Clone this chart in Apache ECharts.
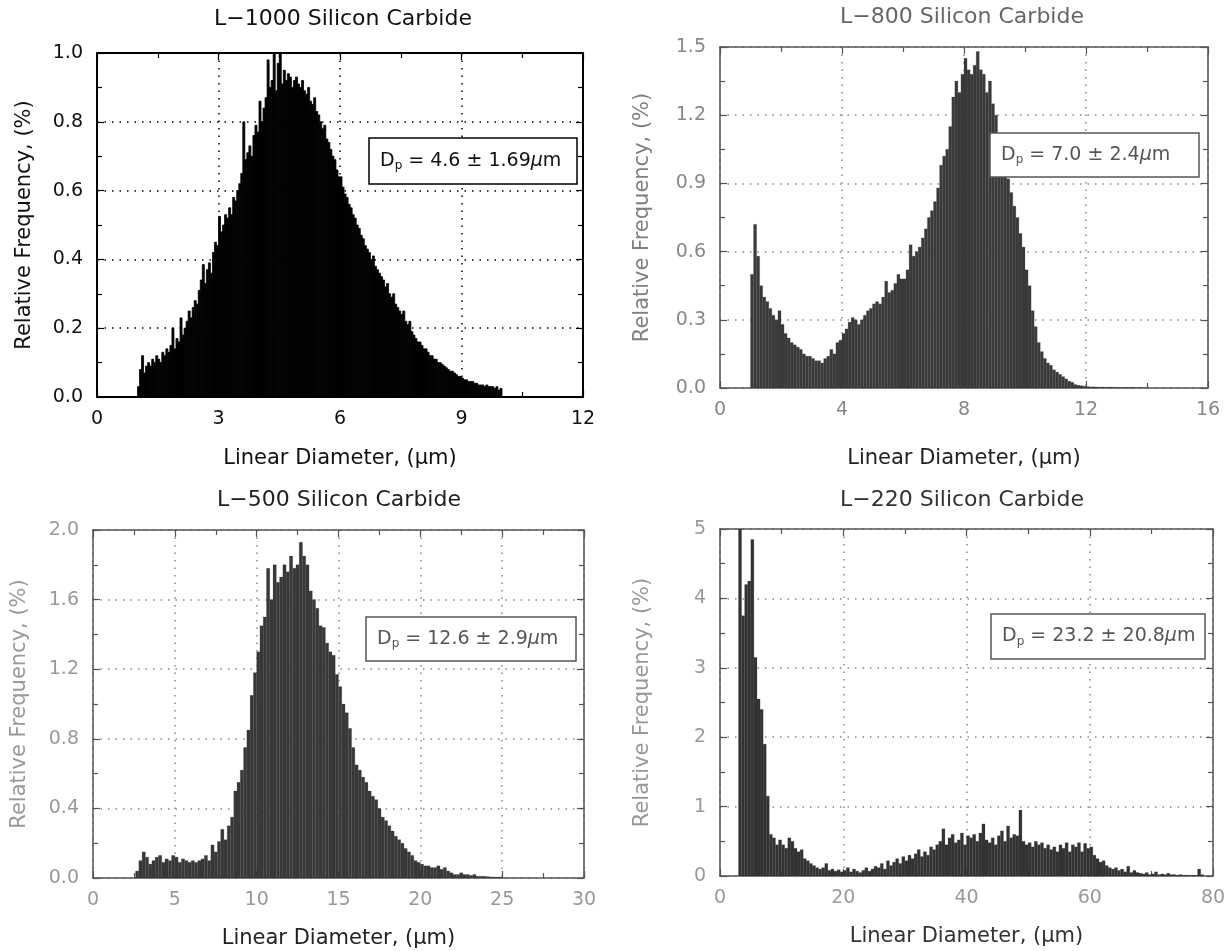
<!DOCTYPE html>
<html><head><meta charset="utf-8">
<script src="https://cdn.jsdelivr.net/npm/echarts@6/dist/echarts.min.js"></script>
<style>html,body{margin:0;padding:0;background:#fff}#c{width:1231px;height:951px}</style>
</head><body><div id="c"></div>
<script>
// ---------------- DATA ----------------
const xAxisName = 'Linear Diameter, (μm)';
const yAxisName = 'Relative Frequency, (%)';

const titles = ['L−1000 Silicon Carbide', 'L−800 Silicon Carbide', 'L−500 Silicon Carbide', 'L−220 Silicon Carbide'];
const meanLabels = ['4.6 ± 1.69', '7.0 ± 2.4', '12.6 ± 2.9', '23.2 ± 20.8'];

const xMax = [12, 16, 30, 80];
const xStep = [3, 4, 5, 20];
const yMax = [1.0, 1.5, 2.0, 5];
const yStep = [0.2, 0.3, 0.4, 1];
const yDecimals = [1, 1, 1, 0];

// L-1000: bins of 0.05 um starting at 1.00 um
const l1000Start = 1.0, l1000Bin = 0.05;
const l1000Values = [
  0.03,0.08,0.12,0.07,0.09, 0.10,0.09,0.11,0.10,0.12,
  0.11,0.10,0.13,0.12,0.14, 0.13,0.15,0.20,0.14,0.17,
  0.16,0.23,0.18,0.20,0.22, 0.25,0.23,0.26,0.28,0.27,
  0.31,0.34,0.385,0.33,0.37, 0.39,0.36,0.42,0.45,0.44,
  0.525,0.48,0.50,0.53,0.52, 0.55,0.53,0.58,0.57,0.60,
  0.62,0.65,0.80,0.69,0.71, 0.73,0.70,0.76,0.79,0.77,
  0.86,0.80,0.84,0.87,0.98, 0.90,0.92,1.01,0.89,0.97,
  1.00,0.91,0.95,0.92,0.94, 0.93,0.90,0.92,0.93,0.91,
  0.90,0.92,0.89,0.88,0.90, 0.86,0.85,0.87,0.83,0.82,
  0.80,0.78,0.79,0.75,0.74, 0.72,0.70,0.69,0.66,0.64,
  0.64,0.61,0.59,0.58,0.56, 0.55,0.53,0.52,0.50,0.49,
  0.47,0.46,0.44,0.43,0.42, 0.40,0.41,0.38,0.37,0.36,
  0.35,0.34,0.32,0.33,0.30, 0.29,0.30,0.27,0.26,0.25,
  0.24,0.25,0.22,0.21,0.22, 0.19,0.18,0.17,0.16,0.16,
  0.15,0.14,0.14,0.13,0.12, 0.12,0.11,0.11,0.10,0.10,
  0.095,0.09,0.085,0.08,0.075, 0.075,0.07,0.065,0.06,0.06,
  0.055,0.05,0.05,0.045,0.045, 0.045,0.04,0.04,0.035,0.035,
  0.035,0.03,0.035,0.03,0.03, 0.03,0.025,0.03,0.02,0.025
];

// L-800: bins of 0.1 um starting at 1.0 um
const l800Start = 1.0, l800Bin = 0.1;
const l800Values = [
  0.50,0.72,0.58,0.45,0.40, 0.38,0.35,0.32,0.30,0.34,
  0.28,0.24,0.22,0.20,0.19, 0.18,0.17,0.15,0.14,0.14,
  0.13,0.12,0.12,0.11,0.13, 0.14,0.17,0.15,0.20,0.21,
  0.24,0.26,0.29,0.31,0.30, 0.28,0.30,0.32,0.34,0.35,
  0.37,0.38,0.37,0.40,0.47, 0.42,0.43,0.46,0.50,0.48,
  0.48,0.52,0.63,0.58,0.60, 0.62,0.66,0.70,0.75,0.78,
  0.82,0.88,0.98,1.02,1.05, 1.15,1.28,1.35,1.30,1.38,
  1.45,1.40,1.38,1.42,1.48, 1.40,1.38,1.30,1.35,1.25,
  1.20,1.10,1.00,0.95,0.92, 0.86,0.80,0.75,0.68,0.62,
  0.52,0.45,0.34,0.27,0.20, 0.16,0.13,0.11,0.10,0.08,
  0.07,0.06,0.05,0.04,0.03, 0.025,0.015,0.012,0.01,0.008,
  0.006,0.005,0.005,0.004,0.004, 0.004,0.003,0.003,0.003,0.003,
  0.002,0.002,0.002,0.002,0.002, 0.002,0.001,0.001,0.001,0.001
];

// L-500: bins of 0.2 um starting at 2.6 um
const l500Start = 2.6, l500Bin = 0.2;
const l500Values = [
  0.04,0.10,0.15,0.12,0.08, 0.10,0.12,0.13,0.09,0.11,
  0.10,0.13,0.12,0.09,0.11, 0.10,0.09,0.10,0.09,0.10,
  0.11,0.13,0.10,0.19,0.15, 0.21,0.28,0.22,0.30,0.35,
  0.50,0.55,0.62,0.75,0.85, 1.05,1.18,1.30,1.45,1.50,
  1.78,1.60,1.80,1.70,1.73, 1.80,1.76,1.85,1.78,1.80,
  1.93,1.85,1.80,1.65,1.60, 1.55,1.45,1.44,1.35,1.30,
  1.28,1.17,1.10,1.00,0.95, 0.86,0.75,0.65,0.62,0.58,
  0.55,0.50,0.47,0.45,0.40, 0.35,0.33,0.30,0.27,0.24,
  0.22,0.20,0.17,0.15,0.13, 0.10,0.09,0.08,0.07,0.07,
  0.06,0.06,0.07,0.05,0.06, 0.04,0.03,0.02,0.02,0.03,
  0.02,0.02,0.015,0.02,0.01, 0.01,0.01,0.008,0.006,0.006,
  0.005,0.004
];

// L-220: bins of 0.5 um starting at 3.0 um
const l220Start = 3.0, l220Bin = 0.5;
const l220Values = [
  5.00,3.75,4.20,4.25,4.85, 3.15,2.55,2.40,1.90,1.15,
  0.60,0.55,0.45,0.52,0.45, 0.40,0.55,0.50,0.40,0.35,
  0.38,0.25,0.22,0.18,0.15, 0.12,0.10,0.12,0.18,0.08,
  0.10,0.07,0.09,0.06,0.08, 0.12,0.06,0.10,0.07,0.05,
  0.08,0.12,0.07,0.10,0.14, 0.12,0.18,0.10,0.22,0.15,
  0.20,0.25,0.18,0.28,0.22, 0.30,0.25,0.32,0.38,0.28,
  0.35,0.30,0.42,0.38,0.45, 0.50,0.68,0.45,0.55,0.60,
  0.48,0.52,0.62,0.45,0.58, 0.55,0.60,0.50,0.62,0.75,
  0.52,0.48,0.55,0.45,0.58, 0.65,0.50,0.72,0.55,0.60,
  0.58,0.95,0.50,0.45,0.48, 0.42,0.50,0.45,0.48,0.40,
  0.45,0.38,0.42,0.35,0.45, 0.40,0.48,0.35,0.45,0.42,
  0.48,0.35,0.47,0.40,0.42, 0.30,0.25,0.20,0.22,0.15,
  0.12,0.10,0.12,0.08,0.10, 0.06,0.14,0.05,0.08,0.05,
  0.04,0.03,0.05,0.02,0.03, 0.06,0.02,0.03,0.02,0.04,
  0.02,0.02,0.01,0.02,0.01, 0.01,0.01,0.01,0.01,0.10,
  0.02
];

// ---------------- STYLE / LAYOUT ----------------
const F = '"DejaVu Sans", "Liberation Sans", sans-serif';
const hist = [
  {start:l1000Start, bin:l1000Bin, values:l1000Values},
  {start:l800Start, bin:l800Bin, values:l800Values},
  {start:l500Start, bin:l500Bin, values:l500Values},
  {start:l220Start, bin:l220Bin, values:l220Values}
];
const grids = [
  {left:97, top:53, width:486, height:344},
  {left:720, top:47, width:488, height:341},
  {left:93, top:530, width:491, height:348},
  {left:720, top:529, width:493, height:347}
];
const look = [
  {title:'#111', tick:'#111', yname:'#111', xname:'#111', frame:'#000', frameW:2, grid:'#000', bar:'#000', seam:0.8, boxLine:'#000', box:'#111'},
  {title:'#666', tick:'#888', yname:'#808080', xname:'#222', frame:'#555', frameW:1.5, grid:'#888', bar:'#3a3a3a', seam:0.2, boxLine:'#555', box:'#555'},
  {title:'#222', tick:'#999', yname:'#999', xname:'#222', frame:'#555', frameW:1.5, grid:'#888', bar:'#383838', seam:0.2, boxLine:'#555', box:'#555'},
  {title:'#333', tick:'#999', yname:'#999', xname:'#333', frame:'#555', frameW:1.5, grid:'#888', bar:'#333', seam:0.2, boxLine:'#555', box:'#555'}
];
const titlePos = [[343, 19], [962, 17], [339, 500], [962, 500]];
const boxes = [
  {x:369, y:138, w:208, h:46},
  {x:990, y:133, w:209, h:44},
  {x:366, y:617, w:210, h:44},
  {x:991, y:614, w:214, h:45}
];
const xNameGap = [51, 60, 50, 50];
const yNameGap = [62, 67, 63, 67];

const xAxes = [], yAxes = [], series = [], graphics = [];
for (let i = 0; i < 4; i++) {
  const c = look[i];
  const common = {
    type:'value', gridIndex:i,
    axisLine:{show:true, onZero:false, lineStyle:{color:c.frame, width:c.frameW}},
    axisTick:{show:true, inside:true, length:7, lineStyle:{color:c.frame, width:1.2}},
    minorTick:{show:true, splitNumber:2, length:5, lineStyle:{color:c.frame, width:1.2}},
    minorSplitLine:{show:false}
  };
  xAxes.push(Object.assign({}, common, {
    min:0, max:xMax[i], interval:xStep[i], position:'bottom',
    splitLine:{show:true, lineStyle:{type:[1.5, 6], color:c.grid, width:1.5}},
    axisLabel:{color:c.tick, fontSize:19, margin:13, fontFamily:F},
    name:xAxisName, nameLocation:'middle', nameGap:xNameGap[i],
    nameTextStyle:{color:c.xname, fontSize:21, fontFamily:F}
  }));
  xAxes.push(Object.assign({}, common, {
    min:0, max:xMax[i], interval:xStep[i], position:'top',
    splitLine:{show:false}, axisLabel:{show:false}
  }));
  yAxes.push(Object.assign({}, common, {
    min:0, max:yMax[i], interval:yStep[i], position:'left',
    splitLine:{show:true, lineStyle:{type:[1.5, 6], color:c.grid, width:1.5}},
    axisLabel:{color:c.tick, fontSize:19, margin:14, fontFamily:F,
      formatter:(v)=>v.toFixed(yDecimals[i])},
    name:yAxisName, nameLocation:'middle', nameGap:yNameGap[i],
    nameTextStyle:{color:c.yname, fontSize:21, fontFamily:F}
  }));
  yAxes.push(Object.assign({}, common, {
    min:0, max:yMax[i], interval:yStep[i], position:'right',
    splitLine:{show:false}, axisLabel:{show:false}
  }));

  const h = hist[i];
  const data = h.values.map((v, k) => [h.start + k * h.bin, v]);
  series.push({
    type:'custom', xAxisIndex:2*i, yAxisIndex:2*i, data:data, clip:true, silent:true,
    encode:{x:0, y:1},
    renderItem:(function(bin, color, seam){
      return function(params, api){
        const x0 = api.value(0), v = api.value(1);
        const p0 = api.coord([x0, v]);
        const p1 = api.coord([x0 + bin, 0]);
        return {type:'rect', shape:{x:p0[0], y:p0[1], width:Math.max(p1[0]-p0[0], 0.6), height:p1[1]-p0[1]},
          style:{fill:color, stroke:color, lineWidth:seam}};
      };
    })(h.bin, c.bar, c.seam)
  });

  graphics.push({type:'text', x:titlePos[i][0], y:titlePos[i][1], z:10,
    style:{text:titles[i], align:'center', verticalAlign:'middle', fill:c.title, font:'22px ' + F}});
  const b = boxes[i];
  graphics.push({type:'rect', z:10, shape:{x:b.x, y:b.y, width:b.w, height:b.h},
    style:{fill:'#fff', stroke:c.boxLine, lineWidth:1.5}});
  graphics.push({type:'text', z:11, x:b.x + 11, y:b.y + b.h/2,
    style:{text:'{d|D}{s|p}{d| = ' + meanLabels[i] + '}{m|μ}{d|m}', verticalAlign:'middle', align:'left',
      rich:{
        d:{fontSize:19, fontFamily:F, fill:c.box},
        s:{fontSize:12, fontFamily:F, fill:c.box, padding:[10,0,0,0]},
        m:{fontSize:19, fontFamily:F, fontStyle:'italic', fill:c.box}
      }}});
}

const chart = echarts.init(document.getElementById('c'));
chart.setOption({
  animation:false,
  backgroundColor:'#fff',
  grid:grids.map(g => Object.assign({containLabel:false, show:false}, g)),
  xAxis:xAxes, yAxis:yAxes, series:series, graphic:graphics
});
</script></body></html>
